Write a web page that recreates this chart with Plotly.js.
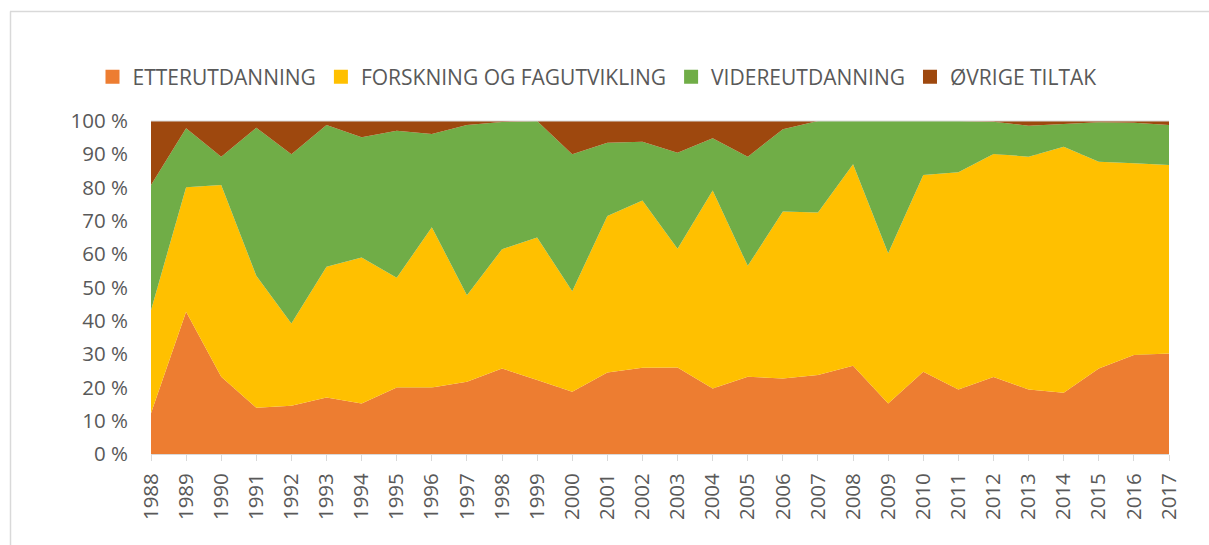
<!DOCTYPE html>
<html>
<head>
<meta charset="utf-8">
<script src="https://cdn.plot.ly/plotly-3.0.1.min.js"></script>
<style>
  html, body { margin: 0; padding: 0; background: #fff; }
  #chart { width: 1209px; height: 545px; }
</style>
</head>
<body>
<div id="chart"></div>
<script>
const years = [1988,1989,1990,1991,1992,1993,1994,1995,1996,1997,1998,1999,2000,2001,2002,2003,2004,2005,2006,2007,2008,2009,2010,2011,2012,2013,2014,2015,2016,2017];

const seriesNames = ["ETTERUTDANNING", "FORSKNING OG FAGUTVIKLING", "VIDEREUTDANNING", "ØVRIGE TILTAK"];

const etterutdanning = [12.2,42.7,23.2,13.9,14.5,17.0,15.2,20.0,20.0,21.7,25.7,22.2,18.7,24.5,25.9,26.0,19.7,23.2,22.7,23.7,26.5,15.2,24.7,19.4,23.2,19.4,18.4,25.7,29.7,30.2];
const forskning = [31.0,37.4,57.6,39.6,24.7,39.2,43.8,32.9,48.1,26.0,35.8,42.8,30.2,47.0,50.2,35.6,59.4,33.3,50.1,48.8,60.5,45.1,59.1,65.2,67.1,69.9,73.9,62.1,57.6,56.6];
const videreutdanning = [37.6,17.7,8.5,44.5,50.8,42.6,36.1,44.2,28.0,51.1,38.2,35.0,41.1,22.0,17.7,28.9,15.7,32.8,24.7,27.5,13.0,39.7,16.2,15.4,9.7,9.3,6.8,11.8,12.2,12.0];
const ovrige = [19.2,2.2,10.7,2.0,10.0,1.2,4.9,2.9,3.9,1.2,0.3,0.0,10.0,6.5,6.2,9.5,5.2,10.7,2.5,0.0,0.0,0.0,0.0,0.0,0.2,1.4,0.9,0.4,0.5,1.2];

const colors = ["#ED7D31", "#FFC000", "#70AD47", "#9E480E"];
const values = [etterutdanning, forskning, videreutdanning, ovrige];

const traces = [];
values.forEach((v, i) => {
  traces.push({
    type: "scatter", mode: "none", x: years, y: v,
    stackgroup: "one", groupnorm: "percent",
    fillcolor: colors[i], line: {width: 0},
    name: seriesNames[i], showlegend: false, hoverinfo: "x+y+name"
  });
});
// legend entries as square markers
values.forEach((v, i) => {
  traces.push({
    type: "scatter", mode: "markers", x: [null], y: [null],
    marker: {symbol: "square", size: 14, color: colors[i]},
    name: seriesNames[i], showlegend: true
  });
});

const W = 1209, H = 545;
const L = 151, R = 40, T = 121, B = 91;
const pw = W - L - R, ph = H - T - B;
const px = X => (X - L) / pw;
const py = Y => (H - B - Y) / ph;

const layout = {
  width: W, height: H,
  margin: {l: L, r: R, t: T, b: B, pad: 0},
  paper_bgcolor: "#fff", plot_bgcolor: "#fff",
  font: {family: "Open Sans, sans-serif", size: 20.5, color: "#595959"},
  showlegend: true,
  legend: {
    orientation: "h", x: px(597), xanchor: "center", y: py(77), yanchor: "middle",
    font: {size: 21, color: "#595959"}, itemclick: false, traceorder: "normal"
  },
  xaxis: {
    type: "linear", range: [1988, 2017], tickvals: years, ticktext: years.map(String),
    tickangle: -90, showgrid: false, zeroline: false,
    showline: true, linecolor: "#D9D9D9", linewidth: 1,
    ticks: "outside", ticklen: 6, tickcolor: "#D9D9D9", tickwidth: 1,
    tickfont: {size: 20.5, color: "#595959"}, ticklabelstandoff: 4
  },
  yaxis: {
    range: [0, 100], dtick: 10, tick0: 0, ticksuffix: " %",
    showgrid: true, gridcolor: "#D9D9D9", zeroline: false, showline: false,
    ticks: "", tickfont: {size: 20.5, color: "#595959"}, ticklabelstandoff: 22
  },
  shapes: [
    {type: "line", xref: "paper", yref: "paper", x0: px(10), x1: px(1215), y0: py(11.5), y1: py(11.5), line: {color: "#D9D9D9", width: 1.5}},
    {type: "line", xref: "paper", yref: "paper", x0: px(10.5), x1: px(10.5), y0: py(11.5), y1: py(560), line: {color: "#D9D9D9", width: 1.5}},
    {type: "line", xref: "paper", yref: "paper", x0: 0, x1: 1, y0: 1, y1: 1, line: {color: "#D9D9D9", width: 1}, layer: "above"}
  ]
};

Plotly.newPlot("chart", traces, layout, {displayModeBar: false, staticPlot: true});
</script>
</body>
</html>
